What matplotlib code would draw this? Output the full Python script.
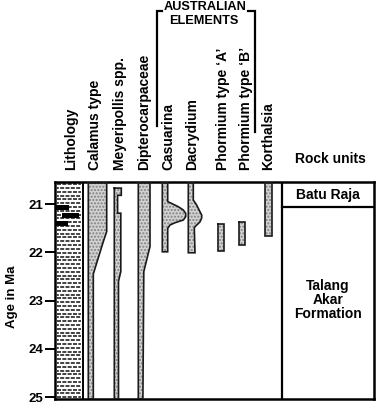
import matplotlib
matplotlib.use("Agg")
import matplotlib.pyplot as plt
from matplotlib.lines import Line2D
from matplotlib.patches import Rectangle
import numpy as np

plt.rcParams['font.family'] = ['Liberation Sans', 'DejaVu Sans']
plt.rcParams['font.weight'] = 'bold'

# ---------------- data ----------------
age_ticks = [21, 22, 23, 24, 25]
age_top, age_bottom = 20.544, 25.04

taxa = ["Calamus type", "Meyeripollis spp.", "Dipterocarpaceae", "Casuarina",
        "Dacrydium", "Phormium type \u2018A\u2019", "Phormium type \u2018B\u2019", "Korthalsia"]

calamus_ages = [20.544, 21.57, 21.78, 22.45, 25.04]
calamus_abund = [18.4, 18.4, 15.0, 5.0, 5.0]

meyeri_ages = [20.67, 20.82, 20.82, 21.19, 21.19, 22.40, 22.60, 25.04]
meyeri_abund = [7.0, 7.0, 3.3, 3.3, 6.5, 6.5, 4.2, 4.2]

diptero_ages = [20.544, 21.88, 22.40, 25.04]
diptero_abund = [11.7, 11.7, 5.5, 4.6]

casuarina_ages = [20.544, 20.95, 20.985, 21.056, 21.124, 21.193, 21.263, 21.332, 21.388, 21.435, 21.504, 21.99]
casuarina_abund = [5.4, 5.4, 9.0, 16.0, 21.0, 23.4, 23.4, 21.0, 12.7, 7.7, 5.4, 5.4]

dacrydium_ages = [20.544, 20.917, 21.02, 21.16, 21.23, 21.29, 21.37, 21.47, 21.50, 22.01]
dacrydium_abund = [5.0, 5.0, 8.3, 11.7, 13.4, 13.4, 11.7, 6.7, 6.0, 6.7]

phormA_ages = [21.41, 21.97]
phormA_abund = [5.7, 5.7]

phormB_ages = [21.38, 21.84]
phormB_abund = [5.7, 5.7]

korthalsia_ages = [20.544, 21.67]
korthalsia_abund = [7.0, 7.0]

# lithology: coal lenses (top age, bottom age, left frac, right frac of column)
lens_top = [21.02, 21.19, 21.36]
lens_bot = [21.13, 21.29, 21.46]
lens_x0 = [0.0, 0.27, 0.0]
lens_x1 = [0.55, 0.92, 0.50]

rock_units = ["Batu Raja", "Talang\nAkar\nFormation"]
rock_boundary = 21.07

# ---------------- layout ----------------
W, H = 376, 411
fig = plt.figure(figsize=(W / 100, H / 100), dpi=100)

px_left, px_right, px_top, px_bot = 55, 374, 182, 399
ax = fig.add_axes([px_left / W, 1 - px_bot / H, (px_right - px_left) / W, (px_bot - px_top) / H])
ax.set_xlim(px_left, px_right)
ax.set_ylim(age_bottom, age_top)

col_left = [88.3, 114.3, 138.3, 162.3, 188.3, 218.3, 239.3, 265.0]
series = [(calamus_ages, calamus_abund), (meyeri_ages, meyeri_abund),
          (diptero_ages, diptero_abund), (casuarina_ages, casuarina_abund),
          (dacrydium_ages, dacrydium_abund), (phormA_ages, phormA_abund),
          (phormB_ages, phormB_abund), (korthalsia_ages, korthalsia_abund)]

for x0, (ages, ab) in zip(col_left, series):
    ages = np.array(ages)
    ab = np.array(ab)
    ax.fill_betweenx(ages, x0, x0 + ab, facecolor='#d2d2d2', hatch='.....',
                     edgecolor='#808080', linewidth=0, zorder=2)
    xs = np.concatenate([[x0], x0 + ab, [x0, x0]])
    ys = np.concatenate([[ages[0]], ages, [ages[-1], ages[0]]])
    ax.plot(xs, ys, color='#1a1a1a', lw=1.2, zorder=3, solid_joinstyle='miter')

# lithology column
lith_x0, lith_x1 = 55.5, 80.5
row_step = 3.8 / 48.25
rows = np.arange(age_top + row_step * 0.6, age_bottom, row_step)
for i, a in enumerate(rows):
    ln = Line2D([lith_x0 + 1, lith_x1], [a, a], color='#222222', lw=1.2,
                linestyle=(1.3 * (i % 2), (2.4, 0.8)), dash_capstyle='butt', zorder=2)
    ax.add_line(ln)
for t, b, f0, f1 in zip(lens_top, lens_bot, lens_x0, lens_x1):
    ax.add_patch(Rectangle((lith_x0 + f0 * (lith_x1 - lith_x0), t),
                           (f1 - f0) * (lith_x1 - lith_x0), b - t,
                           facecolor='black', edgecolor='none', zorder=3))
ax.plot([82.5, 82.5], [age_top, age_bottom], color='black', lw=1.4, zorder=3)

# rock units column
ru_x = 281.7
ax.plot([ru_x, ru_x], [age_top, age_bottom], color='black', lw=1.6, zorder=3)
ax.plot([ru_x, px_right], [rock_boundary, rock_boundary], color='black', lw=1.6, zorder=3)
ru_cx = (ru_x + px_right) / 2
ax.text(ru_cx, (age_top + rock_boundary) / 2, rock_units[0], ha='center', va='center',
        fontsize=10, fontweight='bold')
ax.text(ru_cx, 22.98, rock_units[1], ha='center', va='center', fontsize=10,
        fontweight='bold', linespacing=1.0)

# axis styling
for s in ax.spines.values():
    s.set_linewidth(1.8)
ax.set_xticks([])
ax.set_yticks(age_ticks)
ax.set_yticklabels([str(t) for t in age_ticks], fontsize=9.5, fontweight='bold')
ax.tick_params(axis='y', direction='out', length=7, width=1.4, pad=1.5)

# headers
def fx(x):
    return x / W

def fy(y):
    return 1 - y / H

fig.text(fx(11.7), fy(297), "Age in Ma", rotation=90, ha='center', va='center',
         fontsize=9.5, fontweight='bold')

header_x = [95.5, 119.7, 144.0, 168.0, 191.7, 222.5, 245.8, 268.3]
fig.text(fx(71), fy(170), "Lithology", rotation=90, ha='center', va='bottom',
         fontsize=10, fontweight='bold')
for hx, name in zip(header_x, taxa):
    fig.text(fx(hx), fy(170), name, rotation=90, ha='center', va='bottom',
             fontsize=10, fontweight='bold')
fig.text(fx(330), fy(159), "Rock units", ha='center', va='center', fontsize=10, fontweight='bold')

# bracket "AUSTRALIAN ELEMENTS"
bl, br, bt = 156.7, 255.0, 11.0
for xs, ys in [([bl, bl, 161.7], [126, bt, bt]), ([248.3, br, br], [bt, bt, 131.7])]:
    fig.add_artist(Line2D([fx(v) for v in xs], [fy(v) for v in ys], color='black', lw=1.6,
                          solid_joinstyle='miter'))
fig.text(fx(205), fy(7), "AUSTRALIAN", ha='center', va='center', fontsize=9.2, fontweight='bold')
fig.text(fx(204), fy(20.5), "ELEMENTS", ha='center', va='center', fontsize=9.2, fontweight='bold')

fig.savefig("out.png", dpi=100)
